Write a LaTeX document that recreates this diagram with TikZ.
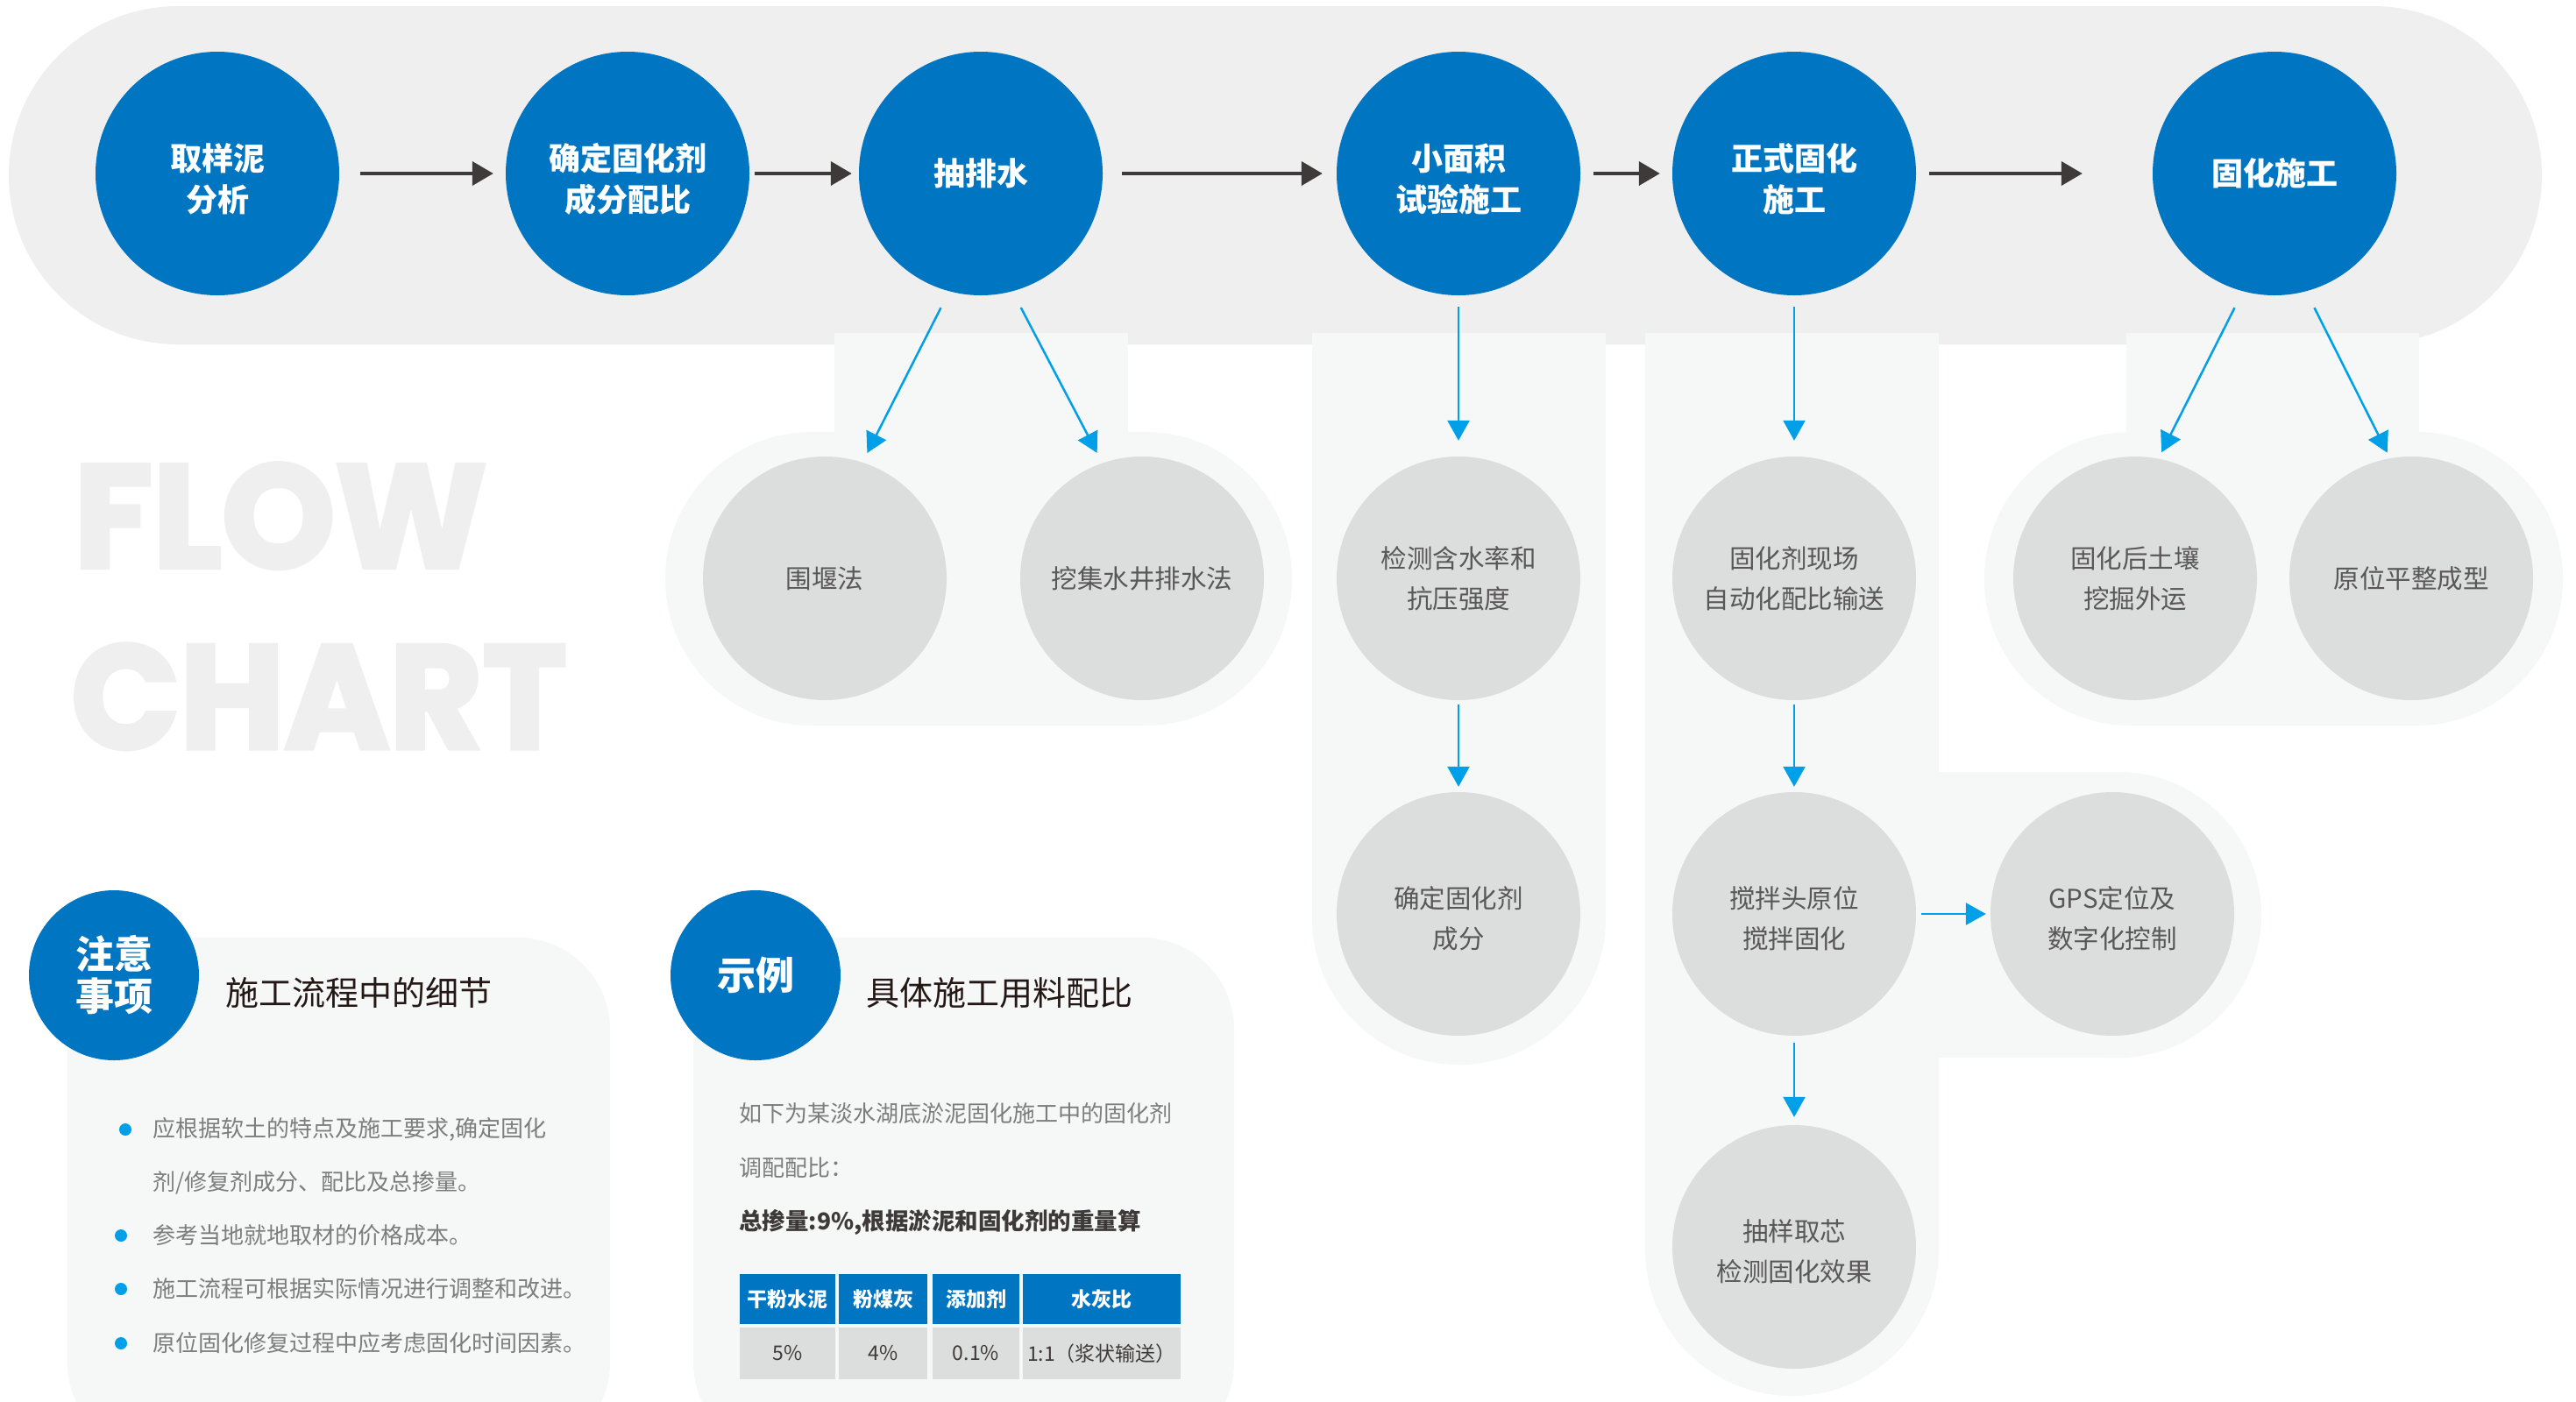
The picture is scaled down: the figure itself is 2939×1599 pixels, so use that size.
\documentclass[tikz,border=0pt]{standalone}
\usepackage{fontspec}
\usepackage{graphicx}
\usetikzlibrary{arrows.meta}
\newfontfamily\cjk{Noto Sans CJK SC}
\newfontfamily\flowfont{Poppins}[BoldFeatures={FakeBold=3}]

% extra height on the first line pushes two-line captions slightly down
\newcommand\toppad{\rule{0pt}{44pt}}
\newcommand\subpad{\rule{0pt}{36pt}}

\definecolor{mainblue}{HTML}{0075C2}
\definecolor{arrowblue}{HTML}{00A0E9}
\definecolor{bandgrey}{HTML}{EFEFEF}
\definecolor{panelgrey}{HTML}{F6F7F7}
\definecolor{subgrey}{HTML}{DCDDDD}
\definecolor{darkarrow}{HTML}{3E3A39}
\definecolor{subtext}{HTML}{595757}
\definecolor{notetext}{HTML}{7D7D7D}
\definecolor{titletext}{HTML}{231815}
\definecolor{celltext}{HTML}{3E3A39}

\tikzset{
  mainstep/.style={circle, fill=mainblue, minimum size=278pt, inner sep=0pt,
    text=white, align=center, font=\cjk\bfseries\fontsize{36}{47}\selectfont},
  substep/.style={circle, fill=subgrey, minimum size=278pt, inner sep=0pt,
    text=subtext, align=center, font=\cjk\fontsize{29.5}{46}\selectfont},
  tagcircle/.style={circle, fill=mainblue, minimum size=194pt, inner sep=0pt,
    text=white, align=center, font=\cjk\bfseries\fontsize{44}{48}\selectfont},
  boxtitle/.style={anchor=west, inner sep=0pt, text=titletext,
    font=\cjk\fontsize{38}{40}\selectfont},
  bulletdot/.style={circle, fill=arrowblue, minimum size=14pt, inner sep=0pt},
  notetxt/.style={anchor=west, inner sep=0pt, text=notetext,
    font=\cjk\fontsize{26}{30}\selectfont},
  headcell/.style={rectangle, fill=mainblue, inner sep=0pt, minimum height=57pt,
    text=white, font=\cjk\bfseries\fontsize{23}{26}\selectfont},
  datacell/.style={rectangle, fill=subgrey, inner sep=0pt, minimum height=59pt,
    text=celltext, font=\cjk\fontsize{23}{26}\selectfont},
  darr/.style={draw=darkarrow, line width=4pt, -{Triangle[length=24pt,width=27pt]}},
  barr/.style={draw=arrowblue, line width=2.5pt, -{Triangle[length=23pt,width=25pt]}},
  bigword/.style={anchor=south west, inner sep=0pt, text=bandgrey}
}

\begin{document}
\begin{tikzpicture}[x=1pt, y=-1pt]
\useasboundingbox (0,0) rectangle (2939,1599);
\clip (0,0) rectangle (2939,1599);
\fill[white] (0,0) rectangle (2939,1599);

% main process band
\fill[bandgrey, rounded corners=193pt] (10,7) rectangle (2900,393);

% pale branches below the band
\fill[panelgrey] (952,380) rectangle (1287,600);
\fill[panelgrey, rounded corners=167pt] (759,493) rectangle (1474,828);

\fill[panelgrey] (1497,380) rectangle (1832,1050);
\fill[panelgrey, rounded corners=167pt] (1497,700) rectangle (1832,1215);

\fill[panelgrey] (1877,380) rectangle (2212,1300);
\fill[panelgrey, rounded corners=167pt] (1877,900) rectangle (2212,1593);
\fill[panelgrey] (2100,881) rectangle (2420,1207);
\fill[panelgrey, rounded corners=163pt] (2240,881) rectangle (2580,1207);

\fill[panelgrey] (2426,380) rectangle (2760,600);
\fill[panelgrey, rounded corners=167pt] (2264,493) rectangle (2924,828);

% lower info panels
\fill[panelgrey, rounded corners=105pt] (77,1070) rectangle (696,1660);
\fill[panelgrey, rounded corners=105pt] (791,1070) rectangle (1408,1660);

% watermark words
\node[bigword] (flow) at (84,649) {\resizebox{471pt}{119pt}{\flowfont\bfseries FLOW}};
\node[bigword] (chart) at (81,855) {\resizebox{565pt}{119pt}{\flowfont\bfseries CHART}};

% main steps
\node[mainstep] (s1) at (248,198) {\toppad 取样泥\\分析};
\node[mainstep] (s2) at (716,198) {\toppad 确定固化剂\\成分配比};
\node[mainstep] (s3) at (1119,198) {抽排水};
\node[mainstep] (s4) at (1664,198) {\toppad 小面积\\试验施工};
\node[mainstep] (s5) at (2047,198) {\toppad 正式固化\\施工};
\node[mainstep] (s6) at (2595,198) {固化施工};

% sub steps
\node[substep] (a1) at (941,660) {围堰法};
\node[substep] (a2) at (1303,660) {挖集水井排水法};
\node[substep] (b1) at (1664,660) {检测含水率和\\抗压强度};
\node[substep] (b2) at (1664,1043) {\subpad 确定固化剂\\成分};
\node[substep] (c1) at (2047,660) {固化剂现场\\自动化配比输送};
\node[substep] (c2) at (2047,1043) {\subpad 搅拌头原位\\搅拌固化};
\node[substep] (c3) at (2047,1423) {\subpad 抽样取芯\\检测固化效果};
\node[substep] (c4) at (2410,1043) {\subpad GPS定位及\\数字化控制};
\node[substep] (d1) at (2436,660) {固化后土壤\\挖掘外运};
\node[substep] (d2) at (2751,660) {原位平整成型};

% main flow arrows
\draw[darr, shorten <=24pt, shorten >=14pt] (s1) -- (s2);
\draw[darr, shorten <=6pt, shorten >=8pt] (s2) -- (s3);
\draw[darr, shorten <=22pt, shorten >=16pt] (s3) -- (s4);
\draw[darr, shorten <=15pt, shorten >=14pt] (s4) -- (s5);
\draw[darr, shorten <=15pt, shorten >=80pt] (s5) -- (s6);

% branch arrows
\draw[barr, shorten <=21pt, shorten >=12pt] (s3.255) -- (a1.72);
\draw[barr, shorten <=21pt, shorten >=13pt] (s3.285) -- (a2.109);
\draw[barr, shorten <=13pt, shorten >=18pt] (s4) -- (b1);
\draw[barr, shorten <=5pt, shorten >=6pt] (b1) -- (b2);
\draw[barr, shorten <=13pt, shorten >=18pt] (s5) -- (c1);
\draw[barr, shorten <=5pt, shorten >=6pt] (c1) -- (c2);
\draw[barr, shorten <=8pt, shorten >=9pt] (c2) -- (c3);
\draw[barr, shorten <=6pt, shorten >=5pt] (c2) -- (c4);
\draw[barr, shorten <=21pt, shorten >=8pt] (s6.255) -- (d1.79);
\draw[barr, shorten <=21pt, shorten >=7pt] (s6.285) -- (d2.100);

% notes panel
\node[tagcircle] (notetag) at (130,1113) {注意\\事项};
\node[boxtitle] (notetitle) at (257,1133) {施工流程中的细节};
\node[bulletdot] (dot1) at (143,1289) {};
\node[bulletdot] (dot2) at (138,1410) {};
\node[bulletdot] (dot3) at (138,1471) {};
\node[bulletdot] (dot4) at (138,1533) {};
\node[notetxt] (note1) at (174,1289) {应根据软土的特点及施工要求,确定固化};
\node[notetxt] (note1b) at (174,1350) {剂/修复剂成分、配比及总掺量。};
\node[notetxt] (note2) at (174,1410) {参考当地就地取材的价格成本。};
\node[notetxt] (note3) at (174,1471) {施工流程可根据实际情况进行调整和改进。};
\node[notetxt] (note4) at (174,1533) {原位固化修复过程中应考虑固化时间因素。};

% example panel
\node[tagcircle] (extag) at (862,1113) {示例};
\node[boxtitle] (extitle) at (988,1133) {具体施工用料配比};
\node[notetxt] (ex1) at (843,1271) {如下为某淡水湖底淤泥固化施工中的固化剂};
\node[notetxt] (ex2) at (843,1333) {调配配比：};
\node[notetxt, text=celltext, font=\cjk\bfseries\fontsize{26.5}{30}\selectfont] (ex3) at (843,1395) {总掺量:9\%,根据淤泥和固化剂的重量算};

% mix table
\node[headcell, minimum width=109pt] (h1) at (898.5,1482.5) {干粉水泥};
\node[headcell, minimum width=101pt] (h2) at (1007.5,1482.5) {粉煤灰};
\node[headcell, minimum width=99pt] (h3) at (1113.5,1482.5) {添加剂};
\node[headcell, minimum width=180pt] (h4) at (1257,1482.5) {水灰比};
\node[datacell, minimum width=109pt] (v1) at (898.5,1544.5) {5\%};
\node[datacell, minimum width=101pt] (v2) at (1007.5,1544.5) {4\%};
\node[datacell, minimum width=99pt] (v3) at (1113.5,1544.5) {0.1\%};
\node[datacell, minimum width=180pt] (v4) at (1257,1544.5) {1:1（浆状输送）};
\end{tikzpicture}
\end{document}
